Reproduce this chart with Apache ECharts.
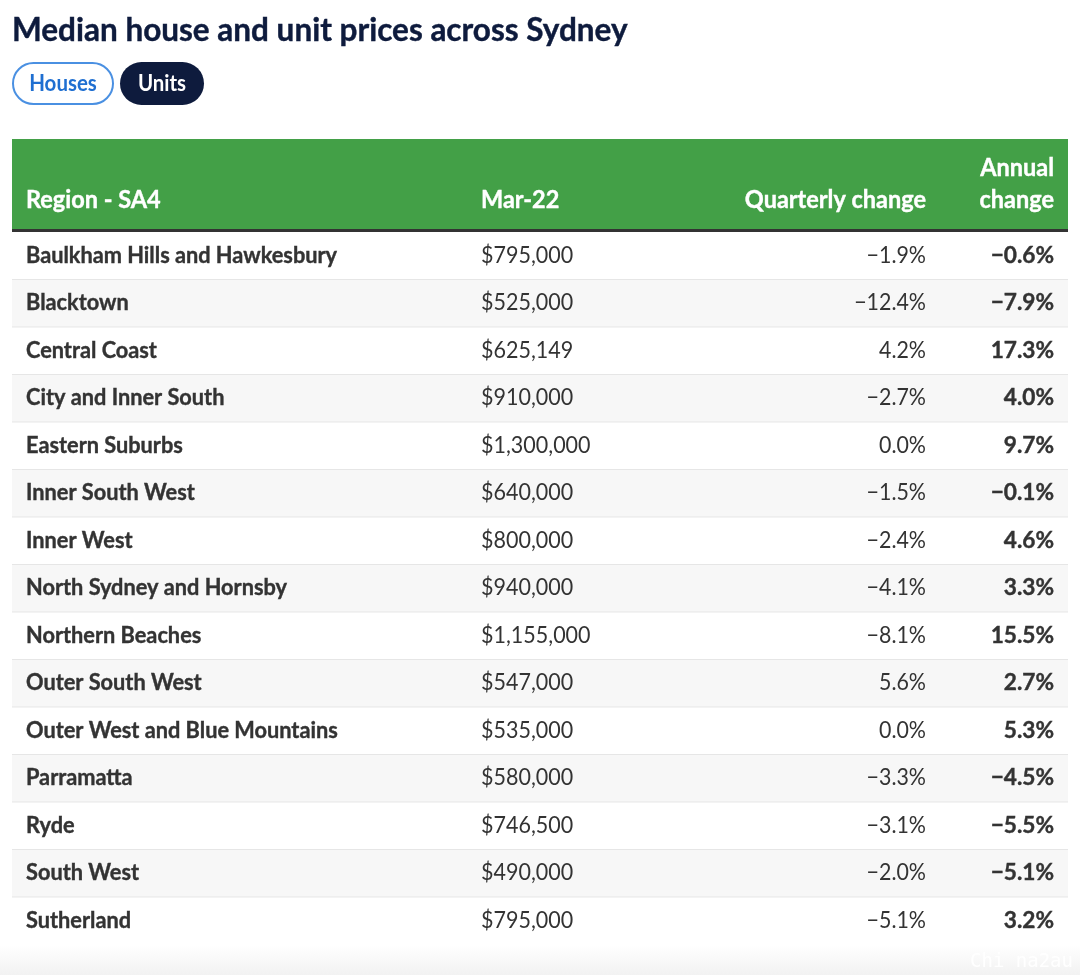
<!DOCTYPE html>
<html>
<head>
<meta charset="utf-8">
<style>html,body{margin:0;padding:0;background:#fff}#main{width:1080px;height:975px}</style>
<script src="https://cdn.jsdelivr.net/npm/echarts@6/dist/echarts.min.js"></script>
</head>
<body>
<div id="main"></div>
<script>
var regions = ['Baulkham Hills and Hawkesbury', 'Blacktown', 'Central Coast', 'City and Inner South', 'Eastern Suburbs',
    'Inner South West', 'Inner West', 'North Sydney and Hornsby', 'Northern Beaches', 'Outer South West',
    'Outer West and Blue Mountains', 'Parramatta', 'Ryde', 'South West', 'Sutherland'];
var prices = [795000, 525000, 625149, 910000, 1300000, 640000, 800000, 940000, 1155000, 547000, 535000, 580000, 746500, 490000, 795000];
var quarterly = [-1.9, -12.4, 4.2, -2.7, 0.0, -1.5, -2.4, -4.1, -8.1, 5.6, 0.0, -3.3, -3.1, -2.0, -5.1];
var annual = [-0.6, -7.9, 17.3, 4.0, 9.7, -0.1, 4.6, 3.3, 15.5, 2.7, 5.3, -4.5, -5.5, -5.1, 3.2];

var FONT = 'Lato';
var NAVY = '#0e1b3d';
var INK = '#333333';

// column anchors, in table pixels from the left edge
var colRegion = 14, colPrice = 469, colQuarter = 914, colAnnual = 1042, tableWidth = 1056;

function money(v) { return '$' + v.toLocaleString('en-US'); }
function pct(v) { return (v < 0 ? '\u2212' : '') + Math.abs(v).toFixed(1) + '%'; }

function cell(x, y, text, align, bold, sx) {
    return {
        type: 'text', x: x, y: y, scaleX: sx,
        style: {
            x: 0, y: 0, text: text, fill: INK, align: align, verticalAlign: 'middle',
            stroke: bold ? INK : null, lineWidth: bold ? 0.4 : 0,
            font: (bold ? '700 ' : '400 ') + '23px ' + FONT
        }
    };
}

function renderRow(params, api) {
    var i = params.dataIndex;
    var p = api.coord([0, i]);
    var right = api.coord([tableWidth, i])[0];
    var h = api.size([0, 1])[1];
    var kids = [];
    kids.push({
        type: 'rect',
        shape: { x: p[0], y: p[1] - h / 2, width: right - p[0], height: h },
        style: { fill: i % 2 ? '#f7f7f7' : '#ffffff' }
    });
    if (i < regions.length - 1) {
        kids.push({
            type: 'rect',
            shape: { x: p[0], y: p[1] + h / 2 - 1, width: right - p[0], height: 2 },
            style: { fill: '#e6e6e6' }
        });
    }
    var y = p[1] - 1;
    kids.push(cell(api.coord([colRegion, i])[0], y, regions[i], 'left', true, 0.945));
    kids.push(cell(api.coord([colPrice, i])[0], y, money(prices[i]), 'left', false, 0.935));
    kids.push(cell(api.coord([colQuarter, i])[0], y, pct(quarterly[i]), 'right', false, 0.93));
    kids.push(cell(api.coord([colAnnual, i])[0], y, pct(annual[i]), 'right', true, 0.985));
    return { type: 'group', children: kids };
}

function headText(x, y, text, align) {
    return {
        type: 'text', x: x, y: y, scaleX: 0.94, z: 10,
        style: { x: 0, y: 0, text: text, fill: '#ffffff', stroke: '#ffffff', lineWidth: 0.4, align: align, verticalAlign: 'middle', font: '700 25px ' + FONT }
    };
}

var myChart = echarts.init(document.getElementById('main'), null, { renderer: 'canvas' });

var option = {
    animation: false,
    backgroundColor: '#ffffff',
    title: {
        text: 'Median house and unit prices across Sydney',
        left: 12, top: 15, padding: 0,
        textStyle: { fontFamily: FONT, fontWeight: 700, fontSize: 31.5, color: NAVY, textBorderColor: NAVY, textBorderWidth: 0.4 }
    },
    grid: { left: 12, right: 12, top: 232.5, height: 712.5 },
    xAxis: { type: 'value', min: 0, max: tableWidth, show: false },
    yAxis: { type: 'category', data: regions, inverse: true, show: false },
    graphic: [
        // bottom page fade and watermark
        { type: 'rect', shape: { x: 0, y: 945, width: 1080, height: 30 }, z: -1,
          style: { fill: new echarts.graphic.LinearGradient(0, 0, 0, 1, [{ offset: 0, color: '#ffffff' }, { offset: 1, color: '#f2f2f2' }]) } },
        { type: 'text', x: 970, y: 962, z: 10,
          style: { text: 'Chi na2au', fill: '#ffffff', align: 'left', verticalAlign: 'middle', font: '400 19px "DejaVu Sans Mono"' } },
        // toggle buttons
        { type: 'rect', shape: { x: 13, y: 63, width: 100, height: 41, r: 20.5 }, style: { fill: '#fff', stroke: '#4a90e2', lineWidth: 2 } },
        { type: 'text', x: 63, y: 84, scaleX: 0.93, style: { x: 0, y: 0, text: 'Houses', fill: '#1f6fd1', align: 'center', verticalAlign: 'middle', font: '700 22px ' + FONT } },
        { type: 'rect', shape: { x: 120, y: 62, width: 84, height: 43, r: 21.5 }, style: { fill: NAVY } },
        { type: 'text', x: 162, y: 84, scaleX: 0.93, style: { x: 0, y: 0, text: 'Units', fill: '#ffffff', align: 'center', verticalAlign: 'middle', font: '700 22px ' + FONT } },
        // table header
        { type: 'rect', shape: { x: 12, y: 139, width: 1056, height: 90 }, style: { fill: '#43a047' } },
        { type: 'rect', shape: { x: 12, y: 229, width: 1056, height: 3 }, style: { fill: '#333333' } },
        headText(26, 200, 'Region - SA4', 'left'),
        headText(481, 200, 'Mar-22', 'left'),
        headText(926, 200, 'Quarterly change', 'right'),
        headText(1054, 168, 'Annual', 'right'),
        headText(1054, 200, 'change', 'right')
    ],
    series: [{
        type: 'custom',
        coordinateSystem: 'cartesian2d',
        renderItem: renderRow,
        clip: false,
        silent: true,
        data: regions.map(function (r, i) { return [0, i]; })
    }]
};

myChart.setOption(option);
</script>
</body>
</html>
